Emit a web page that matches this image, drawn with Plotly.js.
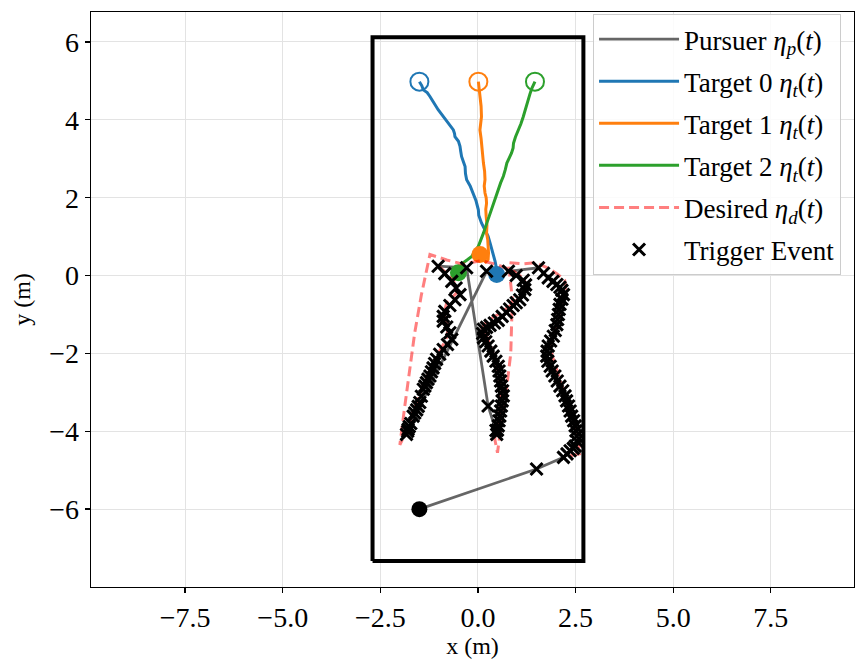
<!DOCTYPE html>
<html>
<head>
<meta charset="utf-8">
<script src="https://cdn.plot.ly/plotly-3.0.1.min.js"></script>
<style>html,body{margin:0;padding:0;background:#fff;}#chart{width:855px;height:663px;}</style>
</head>
<body>
<div id="chart"></div>
<script>
// Boundary rectangle
const boundsX = [-2.7, 2.7, 2.7, -2.7, -2.7];
const boundsY = [-7.33, -7.33, 6.12, 6.12, -7.33];

// Target trajectories
const t0X = [-1.50, -1.44, -1.40, -1.30, -1.23, -1.12, -1.02, -0.90, -0.80, -0.70, -0.63, -0.60, -0.59, -0.50, -0.46, -0.44, -0.42, -0.38, -0.33, -0.32, -0.29, -0.20, -0.12, -0.05, 0.01, 0.02, 0.09, 0.18, 0.26, 0.32, 0.39, 0.44, 0.48, 0.48];
const t0Y = [4.98, 4.88, 4.77, 4.70, 4.60, 4.42, 4.26, 4.10, 3.96, 3.85, 3.74, 3.65, 3.57, 3.45, 3.32, 3.18, 3.06, 2.94, 2.80, 2.62, 2.46, 2.30, 2.12, 1.92, 1.69, 1.55, 1.35, 1.18, 1.01, 0.80, 0.58, 0.36, 0.15, 0.03];
const t1X = [0.01, 0.03, 0.05, 0.08, 0.09, 0.06, 0.05, 0.08, 0.09, 0.12, 0.14, 0.17, 0.18, 0.16, 0.18, 0.21, 0.22, 0.20, 0.21, 0.23, 0.22, 0.25, 0.26, 0.27, 0.26, 0.20, 0.08, 0.05];
const t1Y = [4.98, 4.80, 4.60, 4.35, 4.08, 3.90, 3.74, 3.52, 3.32, 3.10, 2.89, 2.68, 2.46, 2.30, 2.12, 2.00, 1.86, 1.70, 1.52, 1.30, 1.09, 0.92, 0.75, 0.58, 0.41, 0.35, 0.45, 0.54];
const t2X = [1.46, 1.42, 1.38, 1.33, 1.29, 1.22, 1.16, 1.10, 1.03, 0.96, 0.91, 0.90, 0.86, 0.80, 0.74, 0.70, 0.65, 0.58, 0.52, 0.46, 0.39, 0.33, 0.26, 0.20, 0.14, 0.08, 0.01, -0.08, -0.16, -0.28, -0.38, -0.45, -0.50];
const t2Y = [4.98, 4.90, 4.81, 4.66, 4.51, 4.28, 4.08, 3.90, 3.74, 3.56, 3.40, 3.28, 3.15, 3.02, 2.89, 2.72, 2.55, 2.38, 2.21, 2.04, 1.86, 1.65, 1.44, 1.27, 1.09, 0.92, 0.75, 0.62, 0.49, 0.40, 0.33, 0.20, 0.07];

// Pursuer trajectory
const pursuerX = [-1.50, 1.50,
  2.19, 2.28, 2.36, 2.44, 2.49, 2.53, 2.53, 2.51, 2.49, 2.45, 2.40, 2.36, 2.32, 2.27, 2.23, 2.17, 2.10, 2.03, 1.97, 1.90, 1.85, 1.79, 1.76, 1.77,
  1.80, 1.86, 1.93, 1.98, 2.02, 2.04, 2.06, 2.08, 2.10, 2.15, 2.19, 2.15, 2.10, 2.02, 1.92, 1.80, 1.68, 1.55,
  0.78, 0.98, 1.16, 1.22, 1.20, 1.14, 1.07, 0.98, 0.90, 0.81, 0.73, 0.62, 0.52, 0.42, 0.31, 0.22, 0.14, 0.12, 0.14, 0.20, 0.26, 0.33,
  0.39, 0.46, 0.52, 0.54, 0.56, 0.58, 0.60, 0.63, 0.65, 0.62, 0.60, 0.58, 0.56, 0.54, 0.52, 0.50, 0.48, 0.46, 0.26,
  -0.29, -1.02, -0.85, -0.67, -0.56, -0.46, -0.59, -0.72, -0.85, -0.89, -0.89, -0.80, -0.72, -0.67, -0.78, -0.89, -0.98, -1.06, -1.11,
  -1.15, -1.19, -1.23, -1.28, -1.32, -1.36, -1.40, -1.45, -1.49, -1.53, -1.57, -1.62, -1.66, -1.72, -1.76, -1.79, -1.83, -1.80, 0.22];
const pursuerY = [-6.00, -4.97,
  -4.67, -4.58, -4.50, -4.44, -4.38, -4.25, -4.12, -3.99, -3.86, -3.73, -3.61, -3.48, -3.35, -3.22, -3.09, -2.96, -2.84, -2.71, -2.58, -2.45, -2.33, -2.20, -2.07, -1.94,
  -1.81, -1.68, -1.56, -1.41, -1.26, -1.13, -1.00, -0.87, -0.74, -0.61, -0.49, -0.38, -0.30, -0.23, -0.15, -0.06, 0.06, 0.20,
  0.11, 0.00, -0.12, -0.24, -0.36, -0.50, -0.62, -0.70, -0.77, -0.86, -0.95, -1.05, -1.15, -1.22, -1.28, -1.33, -1.38, -1.49, -1.60, -1.70, -1.81, -1.94,
  -2.07, -2.20, -2.33, -2.45, -2.58, -2.71, -2.84, -2.96, -3.09, -3.22, -3.35, -3.48, -3.61, -3.73, -3.86, -3.97, -4.08, -3.98, -3.35,
  0.20, 0.24, 0.05, -0.15, -0.32, -0.49, -0.62, -0.77, -0.92, -1.05, -1.17, -1.32, -1.47, -1.64, -1.77, -1.90, -2.02, -2.15, -2.26,
  -2.37, -2.47, -2.58, -2.66, -2.75, -2.84, -2.92, -3.10, -3.26, -3.36, -3.45, -3.53, -3.61, -3.80, -3.88, -3.95, -4.08, -4.00, 0.11];

// Desired trajectory
const desiredX = [2.36, 2.60, 2.58, 2.50, 2.40, 2.27, 2.14, 2.02, 1.90, 1.86, 1.98, 2.08, 2.13, 2.18, 2.25, 2.22, 2.02, 1.78, 1.48, 1.15,
  0.78, 0.88, 0.84, 0.72, 0.60, 0.50, 0.43, 0.55, 0.58, 0.50, 0.36, 0.20, 0.10, 0.25, 0.55, 0.82, 1.05, 1.24, 1.18, 0.90,
  0.50, 0.10, -0.40, -0.80, -1.23, -1.45, -1.62, -1.75, -1.88, -2.00, -1.86, -1.70, -1.55, -1.40, -1.22, -1.02, -0.82, -0.75, -0.88, -0.80,
  -0.55, -0.62, -0.85, -1.05];
const desiredY = [-4.63, -4.58, -4.30, -3.95, -3.60, -3.20, -2.80, -2.42, -2.05, -1.75, -1.45, -1.15, -0.85, -0.55, -0.28, -0.12, 0.05, 0.20, 0.33, 0.30,
  0.33, -0.60, -2.00, -3.00, -3.80, -4.55, -4.20, -3.60, -3.00, -2.40, -1.90, -1.50, -1.35, -1.15, -0.98, -0.78, -0.58, -0.35, -0.08, 0.12,
  0.28, 0.38, 0.30, 0.40, 0.54, -0.50, -1.47, -2.40, -3.40, -4.35, -4.05, -3.60, -3.20, -2.80, -2.40, -2.00, -1.65, -1.30, -1.00, -0.70,
  -0.45, -0.15, 0.10, 0.28];

// Trigger events (pursuer samples after start)
const triggerX = pursuerX.slice(1);
const triggerY = pursuerY.slice(1);

const xTicks = [-7.5, -5, -2.5, 0, 2.5, 5, 7.5];
const yTicks = [-6, -4, -2, 0, 2, 4, 6];

const colors = {pursuer: 'rgba(0,0,0,0.6)', t0: '#1f77b4', t1: '#ff7f0e', t2: '#2ca02c', desired: 'rgba(255,0,0,0.5)'};
const font = 'Liberation Serif, Times New Roman, serif';

const first = a => [a[0]];
const last = a => [a[a.length - 1]];

const traces = [
  {x: boundsX, y: boundsY, mode: 'lines', line: {color: 'black', width: 4}, showlegend: false, hoverinfo: 'skip'},
  {x: pursuerX, y: pursuerY, mode: 'lines', line: {color: colors.pursuer, width: 2.8}, name: 'Pursuer <i>η</i><sub><i>p</i></sub>(<i>t</i>)', legendgroup: 'a'},
  {x: t0X, y: t0Y, mode: 'lines', line: {color: colors.t0, width: 3}, name: 'Target 0 <i>η</i><sub><i>t</i></sub>(<i>t</i>)', legendgroup: 'b'},
  {x: t1X, y: t1Y, mode: 'lines', line: {color: colors.t1, width: 3}, name: 'Target 1 <i>η</i><sub><i>t</i></sub>(<i>t</i>)', legendgroup: 'c'},
  {x: t2X, y: t2Y, mode: 'lines', line: {color: colors.t2, width: 3}, name: 'Target 2 <i>η</i><sub><i>t</i></sub>(<i>t</i>)', legendgroup: 'd'},
  {x: first(t0X), y: first(t0Y), mode: 'markers', marker: {symbol: 'circle-open', size: 18, color: colors.t0, line: {width: 2}}, showlegend: false},
  {x: first(t1X), y: first(t1Y), mode: 'markers', marker: {symbol: 'circle-open', size: 18, color: colors.t1, line: {width: 2}}, showlegend: false},
  {x: first(t2X), y: first(t2Y), mode: 'markers', marker: {symbol: 'circle-open', size: 18, color: colors.t2, line: {width: 2}}, showlegend: false},
  {x: last(t0X), y: last(t0Y), mode: 'markers', marker: {symbol: 'circle', size: 17, color: colors.t0}, showlegend: false},
  {x: last(t1X), y: last(t1Y), mode: 'markers', marker: {symbol: 'circle', size: 17, color: colors.t1}, showlegend: false},
  {x: last(t2X), y: last(t2Y), mode: 'markers', marker: {symbol: 'circle', size: 17, color: colors.t2}, showlegend: false},
  {x: first(pursuerX), y: first(pursuerY), mode: 'markers', marker: {symbol: 'circle', size: 16, color: 'black'}, showlegend: false},
  {x: desiredX, y: desiredY, mode: 'lines', line: {color: colors.desired, width: 3, dash: '10px,5px'}, name: 'Desired <i>η</i><sub><i>d</i></sub>(<i>t</i>)', legendgroup: 'e'},
  {x: triggerX, y: triggerY, mode: 'markers', marker: {symbol: 'x-thin', size: 12, color: 'black', line: {width: 3, color: 'black'}}, name: 'Trigger Event', legendgroup: 'f'}
];

const axisCommon = {
  showline: true, mirror: true, linecolor: 'black', linewidth: 1.3,
  ticks: 'outside', ticklen: 5, tickwidth: 1.3, tickcolor: 'black',
  showgrid: true, gridcolor: '#e3e3e3', gridwidth: 1, zeroline: false,
  tickfont: {family: font, size: 28, color: 'black'}
};

const layout = {
  width: 855, height: 663,
  margin: {l: 91, r: 1, t: 12, b: 76},
  paper_bgcolor: 'white', plot_bgcolor: 'white',
  font: {family: font, color: 'black'},
  showlegend: true,
  xaxis: Object.assign({}, axisCommon, {range: [-9.91, 9.63], tickvals: xTicks, tickformat: '.1f',
    title: {text: 'x (m)', font: {family: font, size: 24}, standoff: 4}}),
  yaxis: Object.assign({}, axisCommon, {range: [-8.0, 6.77], tickvals: yTicks,
    title: {text: 'y (m)', font: {family: font, size: 24}, standoff: 12}}),
  legend: {x: 0.658, y: 0.9965, xanchor: 'left', yanchor: 'top', bgcolor: 'rgba(255,255,255,0.85)',
    bordercolor: '#cccccc', borderwidth: 1, font: {family: font, size: 27, color: 'black'},
    tracegroupgap: 4, itemwidth: 80}
};

Plotly.newPlot('chart', traces, layout, {displayModeBar: false, staticPlot: true});
</script>
</body>
</html>
